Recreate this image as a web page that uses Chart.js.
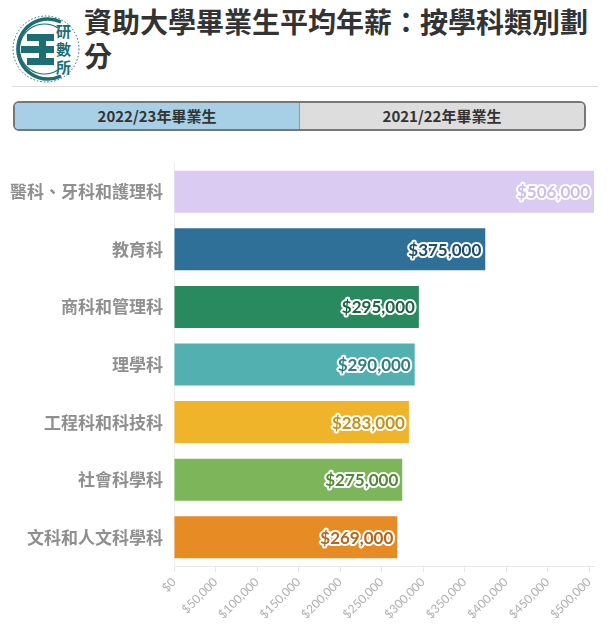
<!DOCTYPE html>
<html>
<head>
<meta charset="utf-8">
<script src="https://cdn.jsdelivr.net/npm/chart.js@4"></script>
<style>
  body { margin: 0; background: #fff; font-family: "Noto Sans CJK TC", sans-serif; }
  #page { position: relative; width: 610px; height: 626px; overflow: hidden; }
  #logo { position: absolute; left: 0; top: 0; }
  #title { position: absolute; left: 84px; top: 4px; width: 520px; font-size: 28px; font-weight: bold; line-height: 34px; color: #333; }
  #rule { position: absolute; left: 12px; top: 86px; width: 586px; height: 1px; background: #ddd; }
  #toggle { position: absolute; left: 13px; top: 101px; width: 569px; height: 26px; border: 2px solid #777; border-radius: 6px; overflow: hidden; display: flex; }
  #toggle div { flex: 1; text-align: center; line-height: 26px; font-size: 15px; font-weight: bold; color: #333; }
  #toggle .on { background: #a7cfe6; border-right: 1px solid #999; }
  #toggle .off { background: #dddddd; }
  #chart { position: absolute; left: 0; top: 140px; }
</style>
</head>
<body>
<div id="page">
  <svg id="logo" width="90" height="86">
    <circle cx="46" cy="49" r="33" fill="none" stroke="#1b6e74" stroke-width="1" stroke-dasharray="1.5 2"/>
    <path d="M 61 22 A 30 30 0 1 0 61 76" fill="none" stroke="#1b6e74" stroke-width="3.5"/>
    <path d="M 58 28 A 25 25 0 1 0 58 70" fill="none" stroke="#1b6e74" stroke-width="1.2"/>
    <rect x="27" y="34" width="27" height="7" fill="#1b6e74"/>
    <rect x="21" y="46" width="33" height="7" fill="#1b6e74"/>
    <rect x="27" y="58" width="27" height="7" fill="#1b6e74"/>
    <rect x="39" y="34" width="7" height="31" fill="#1b6e74"/>
    <text x="56" y="37" font-size="15" font-weight="bold" fill="#1b6e74" font-family="Noto Sans CJK TC">研</text>
    <text x="56" y="55" font-size="15" font-weight="bold" fill="#1b6e74" font-family="Noto Sans CJK TC">數</text>
    <text x="56" y="73" font-size="15" font-weight="bold" fill="#1b6e74" font-family="Noto Sans CJK TC">所</text>
  </svg>
  <div id="title">資助大學畢業生平均年薪：按學科類別劃分</div>
  <div id="rule"></div>
  <div id="toggle"><div class="on">2022/23年畢業生</div><div class="off">2021/22年畢業生</div></div>
  <canvas id="chart" width="610" height="486"></canvas>
</div>
<script>
const categories = ['醫科、牙科和護理科', '教育科', '商科和管理科', '理學科', '工程科和科技科', '社會科學科', '文科和人文科學科'];
const salaries = [506000, 375000, 295000, 290000, 283000, 275000, 269000];
const barColors = ['#d9cbf2', '#2f7099', '#2a8a5f', '#52b0b1', '#f0b42b', '#7db65a', '#e78b24'];
const labelColors = ['#cdbcee', '#1d4f6f', '#1c6442', '#2f7f80', '#c3921c', '#4f8a35', '#b4661a'];
const tickValues = [0, 50000, 100000, 150000, 200000, 250000, 300000, 350000, 400000, 450000, 500000];

const money = v => '$' + Number(v).toLocaleString('en-US');

// values drawn inside the end of each bar, with a white outline
const valueLabels = {
  id: 'valueLabels',
  afterDatasetsDraw(chart) {
    const ctx = chart.ctx;
    const meta = chart.getDatasetMeta(0);
    ctx.save();
    ctx.font = 'bold 17px Lato';
    ctx.textAlign = 'right';
    ctx.textBaseline = 'middle';
    ctx.lineJoin = 'round';
    ctx.lineWidth = 4;
    ctx.strokeStyle = '#fff';
    meta.data.forEach((bar, i) => {
      const txt = money(salaries[i]);
      ctx.strokeText(txt, bar.x - 4, bar.y + 1);
      ctx.fillStyle = labelColors[i];
      ctx.fillText(txt, bar.x - 4, bar.y + 1);
    });
    ctx.restore();
  }
};

new Chart(document.getElementById('chart'), {
  type: 'bar',
  data: {
    labels: categories,
    datasets: [{
      data: salaries,
      backgroundColor: barColors,
      categoryPercentage: 1,
      barPercentage: 0.73
    }]
  },
  options: {
    responsive: false,
    animation: false,
    indexAxis: 'y',
    layout: { padding: { top: 23, right: 16, left: 0, bottom: 0 } },
    plugins: { legend: { display: false }, tooltip: { enabled: false } },
    scales: {
      x: {
        min: 0,
        max: Math.max(...salaries),
        afterBuildTicks: s => { s.ticks = tickValues.map(v => ({ value: v })); },
        afterFit: s => { s.height = 60; },
        ticks: {
          autoSkip: false,
          minRotation: 45,
          maxRotation: 45,
          color: '#b0b0b0',
          font: { family: 'Lato', size: 12 },
          callback: v => money(v)
        },
        grid: { drawOnChartArea: false, color: '#e8e8e8', tickLength: 6 },
        border: { color: '#e8e8e8' }
      },
      y: {
        afterFit: s => { s.width = 174; },
        ticks: {
          color: '#8f8f8f',
          padding: 3,
          font: { family: 'Noto Sans CJK TC', size: 17, weight: 'bold' }
        },
        grid: { display: false },
        border: { color: '#eeeeee' }
      }
    }
  },
  plugins: [valueLabels]
});
</script>
</body>
</html>
